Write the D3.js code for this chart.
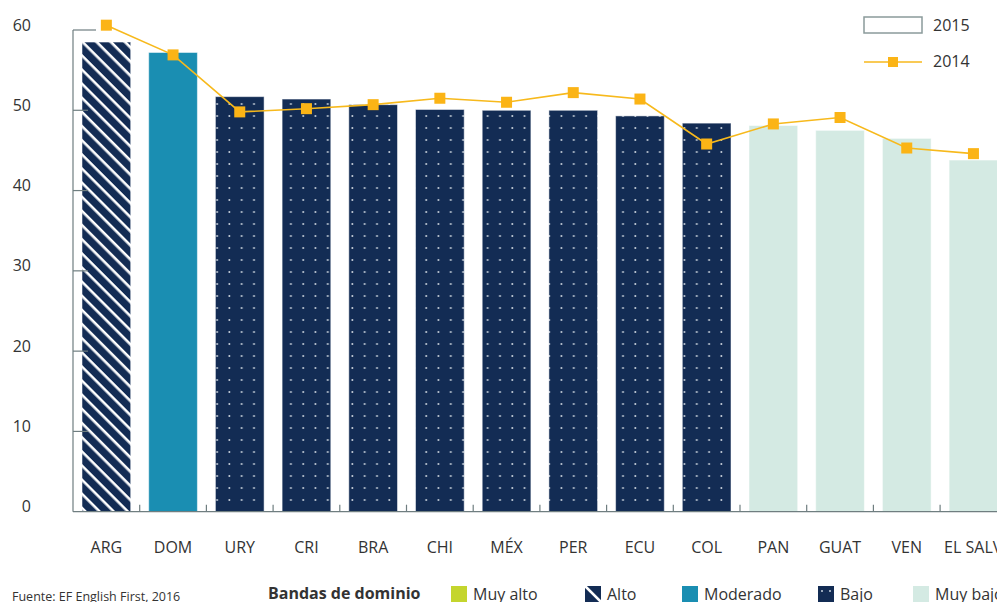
<!DOCTYPE html>
<html lang="es">
<head>
    <meta charset="UTF-8">
    <title>EF English First 2016</title>
    <script src="https://cdn.jsdelivr.net/npm/d3@7"></script>
    <style>
        body {
            margin: 0;
            background: #fff;
            overflow: hidden;
        }
        svg text {
            font-family: "Open Sans", "Noto Sans", sans-serif;
            fill: #333;
        }
    </style>
</head>
<body>
<div id="canvas"></div>
<script>
    // data
    const categories = ["ARG","DOM","URY","CRI","BRA","CHI","MÉX","PER","ECU","COL","PAN","GUAT","VEN","EL SALVADOR"]
    const values2015 = [58.5,57.2,51.7,51.4,50.7,50.1,50.0,50.0,49.3,48.4,48.1,47.5,46.5,43.8]
    const values2014 = [60.6,56.9,49.8,50.2,50.7,51.5,51.0,52.2,51.4,45.8,48.3,49.1,45.3,44.6]
    const bands = ["Alto","Moderado","Bajo","Bajo","Bajo","Bajo","Bajo","Bajo","Bajo","Bajo","Muy bajo","Muy bajo","Muy bajo","Muy bajo"]
    const bandNames = ["Muy alto","Alto","Moderado","Bajo","Muy bajo"]
    const yTicks = [0,10,20,30,40,50,60]

    const width = 997
    const height = 602
    const navy = "#132c54"
    const fills = {
        "Muy alto": "#c4d52e",
        "Alto": "url(#hatch)",
        "Moderado": "#1a8eb2",
        "Bajo": "url(#dots)",
        "Muy bajo": "#d4eae3"
    }

    const svg = d3.select("#canvas")
        .append("svg")
        .attr("width", width)
        .attr("height", height)

    const defs = svg.append("defs")
    const hatch = defs.append("pattern")
        .attr("id", "hatch")
        .attr("patternUnits", "userSpaceOnUse")
        .attr("width", 10)
        .attr("height", 10)
        .attr("patternTransform", "rotate(45)")
    hatch.append("rect").attr("width", 10).attr("height", 10).attr("fill", navy)
    hatch.append("rect").attr("x", 0).attr("y", 0).attr("width", 10).attr("height", 2.6).attr("fill", "#fff")

    const dots = defs.append("pattern")
        .attr("id", "dots")
        .attr("patternUnits", "userSpaceOnUse")
        .attr("x", 2)
        .attr("y", 2)
        .attr("width", 12.3)
        .attr("height", 12)
    dots.append("rect").attr("width", 12.3).attr("height", 12).attr("fill", navy)
    dots.append("circle").attr("cx", 6).attr("cy", 6).attr("r", 1).attr("fill", "#c9d2dc")

    const x = d3.scaleBand()
        .domain(categories)
        .range([73, 73 + 66.7 * categories.length])
        .paddingInner(0.27)
        .paddingOuter(0.135)

    const y = d3.scaleLinear()
        .domain([0, 60])
        .range([511.7, 30])

    // bars
    svg.append("g").selectAll("rect")
        .data(categories)
        .enter()
        .append("rect")
        .attr("x", d => x(d))
        .attr("width", x.bandwidth())
        .attr("y", (d, i) => y(values2015[i]))
        .attr("height", (d, i) => y(0) - y(values2015[i]))
        .attr("fill", (d, i) => fills[bands[i]])
        .attr("stroke", "#ffffff")
        .attr("stroke-opacity", 0.5)
        .attr("stroke-width", 1)

    // y axis
    const axisColor = "#6f7e80"
    const yAxis = svg.append("g")
    yAxis.append("line")
        .attr("x1", 73).attr("x2", 73)
        .attr("y1", y(60)).attr("y2", y(0))
        .attr("stroke", axisColor).attr("stroke-width", 1.2)
    yAxis.selectAll(".tick")
        .data(yTicks.filter(d => d > 0))
        .enter()
        .append("line")
        .attr("x1", 73)
        .attr("x2", d => d === 60 ? 96 : 88)
        .attr("y1", d => y(d)).attr("y2", d => y(d))
        .attr("stroke", axisColor).attr("stroke-width", 1.2)
    yAxis.selectAll("text")
        .data(yTicks)
        .enter()
        .append("text")
        .attr("x", 31)
        .attr("y", d => y(d) - 5)
        .attr("dy", "0.35em")
        .attr("text-anchor", "end")
        .attr("font-size", 16)
        .text(d => d)

    // x axis
    const xAxis = svg.append("g")
    xAxis.append("line")
        .attr("x1", 73).attr("x2", width)
        .attr("y1", y(0)).attr("y2", y(0))
        .attr("stroke", axisColor).attr("stroke-width", 1.2)
    xAxis.selectAll(".tick")
        .data(categories.slice(1))
        .enter()
        .append("line")
        .attr("x1", d => x(d) - x.step() * x.paddingInner() / 2)
        .attr("x2", d => x(d) - x.step() * x.paddingInner() / 2)
        .attr("y1", y(0)).attr("y2", y(0) - 7)
        .attr("stroke", axisColor).attr("stroke-width", 1.2)
    const lastCat = categories[categories.length - 1]
    xAxis.selectAll("text")
        .data(categories)
        .enter()
        .append("text")
        .attr("x", d => d === lastCat ? x(d) - 5 : x(d) + x.bandwidth() / 2)
        .attr("y", 553)
        .attr("text-anchor", d => d === lastCat ? "start" : "middle")
        .attr("font-size", 16)
        .text(d => d)

    // 2014 line
    const lineColor = "#f7b91c"
    const line = d3.line()
        .x(d => x(d) + x.bandwidth() / 2)
        .y((d, i) => y(values2014[i]))
    svg.append("path")
        .datum(categories)
        .attr("d", line)
        .attr("fill", "none")
        .attr("stroke", lineColor)
        .attr("stroke-width", 1.6)
    svg.append("g").selectAll("rect")
        .data(categories)
        .enter()
        .append("rect")
        .attr("x", d => x(d) + x.bandwidth() / 2 - 5.5)
        .attr("y", (d, i) => y(values2014[i]) - 5.5)
        .attr("width", 11)
        .attr("height", 11)
        .attr("fill", "#fbb416")

    // top-right legend
    const leg = svg.append("g")
    leg.append("rect")
        .attr("x", 864).attr("y", 17)
        .attr("width", 58).attr("height", 16)
        .attr("fill", "#fff")
        .attr("stroke", "#8b9a9b").attr("stroke-width", 1.5)
    leg.append("text").attr("x", 933).attr("y", 31).attr("font-size", 16).text("2015")
    leg.append("line")
        .attr("x1", 864).attr("x2", 922)
        .attr("y1", 62).attr("y2", 62)
        .attr("stroke", lineColor).attr("stroke-width", 1.6)
    leg.append("rect")
        .attr("x", 888).attr("y", 57)
        .attr("width", 10).attr("height", 10)
        .attr("fill", "#fbb416")
    leg.append("text").attr("x", 933).attr("y", 67).attr("font-size", 16).text("2014")

    // bottom
    svg.append("text")
        .attr("x", 12).attr("y", 601)
        .attr("font-size", 12.5)
        .text("Fuente: EF English First, 2016")
    svg.append("text")
        .attr("x", 268).attr("y", 599)
        .attr("font-size", 16)
        .attr("font-weight", "bold")
        .text("Bandas de dominio")

    const swatchX = [451, 585, 682, 818, 913]
    const bandLeg = svg.append("g").selectAll("g")
        .data(bandNames)
        .enter()
        .append("g")
        .attr("transform", (d, i) => `translate(${swatchX[i]},586)`)
    bandLeg.append("rect")
        .attr("width", 16).attr("height", 16)
        .attr("fill", d => d === "Alto" ? navy : d === "Bajo" ? navy : fills[d])
    bandLeg.filter(d => d === "Alto")
        .append("line")
        .attr("x1", 0).attr("y1", 0).attr("x2", 16).attr("y2", 16)
        .attr("stroke", "#fff").attr("stroke-width", 2.5)
    bandLeg.filter(d => d === "Bajo")
        .selectAll("circle")
        .data([[4, 5], [12, 5]])
        .enter()
        .append("circle")
        .attr("cx", d => d[0]).attr("cy", d => d[1]).attr("r", 1)
        .attr("fill", "#c9d2dc")
    bandLeg.append("text")
        .attr("x", 22).attr("y", 14)
        .attr("font-size", 16)
        .text(d => d)
</script>
</body>
</html>
